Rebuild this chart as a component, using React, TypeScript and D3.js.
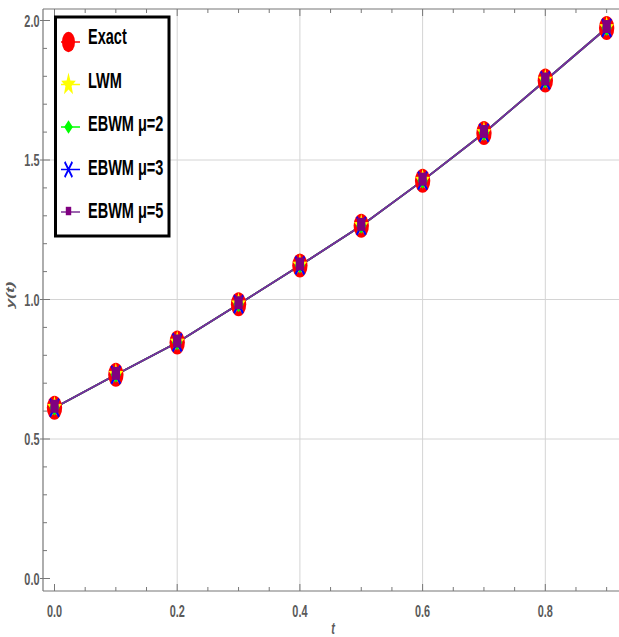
import React from 'react';
import * as d3 from 'd3';

// values
const tValues = [0, 0.1, 0.2, 0.3, 0.4, 0.5, 0.6, 0.7, 0.8, 0.9];
const exactValues = [0.612, 0.73, 0.846, 0.983, 1.122, 1.264, 1.426, 1.597, 1.785, 1.973];
const lwmValues = [0.612, 0.73, 0.846, 0.983, 1.122, 1.264, 1.426, 1.597, 1.785, 1.973];
const ebwm2Values = [0.612, 0.73, 0.846, 0.983, 1.122, 1.264, 1.426, 1.597, 1.785, 1.973];
const ebwm3Values = [0.612, 0.73, 0.846, 0.983, 1.122, 1.264, 1.426, 1.597, 1.785, 1.973];
const ebwm5Values = [0.612, 0.73, 0.846, 0.983, 1.122, 1.264, 1.426, 1.597, 1.785, 1.973];

const seriesNames = ['Exact', 'LWM', 'EBWM μ=2', 'EBWM μ=3', 'EBWM μ=5'];
const seriesColors = ['#ff0000', '#ffff00', '#00ff00', '#0000ff', '#800080'];
const xTickLabels = [0, 0.2, 0.4, 0.6, 0.8];
const yTickLabels = [0, 0.5, 1, 1.5, 2];

const W = 619;
const H = 637;
const SQ = 0.64; // the picture is squeezed horizontally
const frame = { left: 43, top: 9, bottom: 591, right: 640 };

const x = d3.scaleLinear().domain([0, 1]).range([54.5, 668]);
const y = d3.scaleLinear().domain([0, 2]).range([578.5, 20.5]);

const starPath = (R: number, r: number) => {
  const pts: string[] = [];
  for (let i = 0; i < 10; i++) {
    const a = -Math.PI / 2 + (i * Math.PI) / 5;
    const rad = i % 2 ? r : R;
    pts.push(`${rad * Math.cos(a)},${rad * Math.sin(a)}`);
  }
  return 'M' + pts.join('L') + 'Z';
};

const Marker = ({ kind, cx, cy, k }: { kind: number; cx: number; cy: number; k: number }) => {
  const c = seriesColors[kind];
  let shape: React.ReactNode = null;
  if (kind === 0) shape = <circle r={12 * k} fill={c} />;
  if (kind === 1) shape = <path d={starPath(12 * k, 5 * k)} fill={c} />;
  if (kind === 2)
    shape = <path d={`M0,${-8 * k}L${8 * k},0L0,${8 * k}L${-8 * k},0Z`} fill={c} />;
  if (kind === 3)
    shape = (
      <path
        d={`M${-7 * k},${-9 * k}L${7 * k},${9 * k}M${-7 * k},${9 * k}L${7 * k},${-9 * k}`}
        stroke={c}
        strokeWidth={3 * k}
        fill="none"
      />
    );
  if (kind === 4)
    shape = <rect x={-6.5 * k} y={-8 * k} width={13 * k} height={13 * k} fill={c} />;
  return <g transform={`translate(${cx},${cy}) scale(${SQ},1)`}>{shape}</g>;
};

const App = () => {
  const series = [exactValues, lwmValues, ebwm2Values, ebwm3Values, ebwm5Values];
  const line = d3
    .line<number>()
    .x((_, i) => x(tValues[i]))
    .y(d => y(d));

  const xMinor = d3.range(0, 0.96, 0.05);
  const yMinor = d3.range(0, 2.01, 0.1);
  const axisColor = '#777';
  const labelColor = '#5a5a5a';

  return (
    <svg
      width={W}
      height={H}
      style={{ position: 'absolute', left: 0, top: 0, background: '#fff' }}
      fontFamily="Liberation Sans, Arial, sans-serif"
    >
      <rect width={W} height={H} fill="#fff" />
      {/* grid */}
      {xTickLabels.filter(t => t > 0).map(t => (
        <line key={'gx' + t} x1={x(t)} x2={x(t)} y1={frame.top} y2={frame.bottom} stroke="#d4d4d4" strokeWidth={1} />
      ))}
      {yTickLabels.filter(t => t > 0 && t < 2).map(t => (
        <line key={'gy' + t} x1={frame.left} x2={frame.right} y1={y(t)} y2={y(t)} stroke="#d4d4d4" strokeWidth={1} />
      ))}

      {/* frame */}
      <line x1={frame.left} x2={frame.left} y1={frame.top} y2={frame.bottom} stroke={axisColor} strokeWidth={1.2} />
      <line x1={frame.left} x2={frame.right} y1={frame.bottom} y2={frame.bottom} stroke={axisColor} strokeWidth={1.2} />
      <line x1={frame.left} x2={frame.right} y1={frame.top} y2={frame.top} stroke={axisColor} strokeWidth={1.2} />

      {/* x ticks */}
      {xMinor.map((t, i) => {
        const major = i % 4 === 0;
        const len = major ? 7 : 4;
        return (
          <g key={'xt' + i}>
            <line x1={x(t)} x2={x(t)} y1={frame.bottom} y2={frame.bottom - len} stroke={axisColor} />
            <line x1={x(t)} x2={x(t)} y1={frame.top} y2={frame.top + len} stroke={axisColor} />
          </g>
        );
      })}
      {xTickLabels.map(t => (
        <text
          key={'xl' + t}
          transform={`translate(${x(t)},617) scale(${SQ},1)`}
          textAnchor="middle"
          fontSize={17}
          fontWeight="bold"
          fill={labelColor}
        >
          {t.toFixed(1)}
        </text>
      ))}

      {/* y ticks */}
      {yMinor.map((v, i) => {
        const major = i % 5 === 0;
        return major ? (
          <line key={'yt' + i} x1={frame.left - 3} x2={frame.left + 7} y1={y(v)} y2={y(v)} stroke={axisColor} />
        ) : (
          <line key={'yt' + i} x1={frame.left} x2={frame.left + 4} y1={y(v)} y2={y(v)} stroke={axisColor} />
        );
      })}
      {yTickLabels.map(v => (
        <text
          key={'yl' + v}
          transform={`translate(39.5,${y(v) + 6}) scale(${SQ},1)`}
          textAnchor="end"
          fontSize={17}
          fontWeight="bold"
          fill={labelColor}
        >
          {v.toFixed(1)}
        </text>
      ))}

      {/* axis titles */}
      <text
        transform={`translate(14,295) rotate(-90) scale(1,${SQ})`}
        textAnchor="middle"
        fontSize={17}
        fontWeight="bold"
        fontStyle="italic"
        fill={labelColor}
      >
        y(t)
      </text>
      <text
        transform={`translate(333,634) scale(${SQ},1)`}
        textAnchor="middle"
        fontSize={17}
        fontWeight="bold"
        fontStyle="italic"
        fill={labelColor}
      >
        t
      </text>

      {/* lines */}
      {series.map((vals, s) => (
        <path key={'ln' + s} d={line(vals) || ''} fill="none" stroke={s === 4 ? '#7b3294' : seriesColors[s]} strokeWidth={1.8} />
      ))}

      {/* markers */}
      {series.map((vals, s) =>
        vals.map((v, i) => <Marker key={`m${s}-${i}`} kind={s} cx={x(tValues[i])} cy={y(v)} k={1} />)
      )}

      {/* legend */}
      <rect x={55.5} y={17} width={113.5} height={219} fill="#fff" stroke="#000" strokeWidth={3} />
      {seriesNames.map((name, s) => {
        const my = 42 + s * 42.5;
        const ty = 36 + s * 43.5 + 8;
        return (
          <g key={'lg' + s}>
            <line x1={61} x2={80} y1={my} y2={my} stroke={s === 4 ? '#7b3294' : seriesColors[s]} strokeWidth={1.5} />
            <Marker kind={s} cx={68.5} cy={my} k={s === 4 ? 0.65 : s === 1 ? 1.0 : 0.85} />
            <text
              transform={`translate(88,${ty}) scale(0.66,1)`}
              fontSize={22}
              fontWeight="bold"
              fill="#000"
            >
              {name}
            </text>
          </g>
        );
      })}
    </svg>
  );
};

export default App;
